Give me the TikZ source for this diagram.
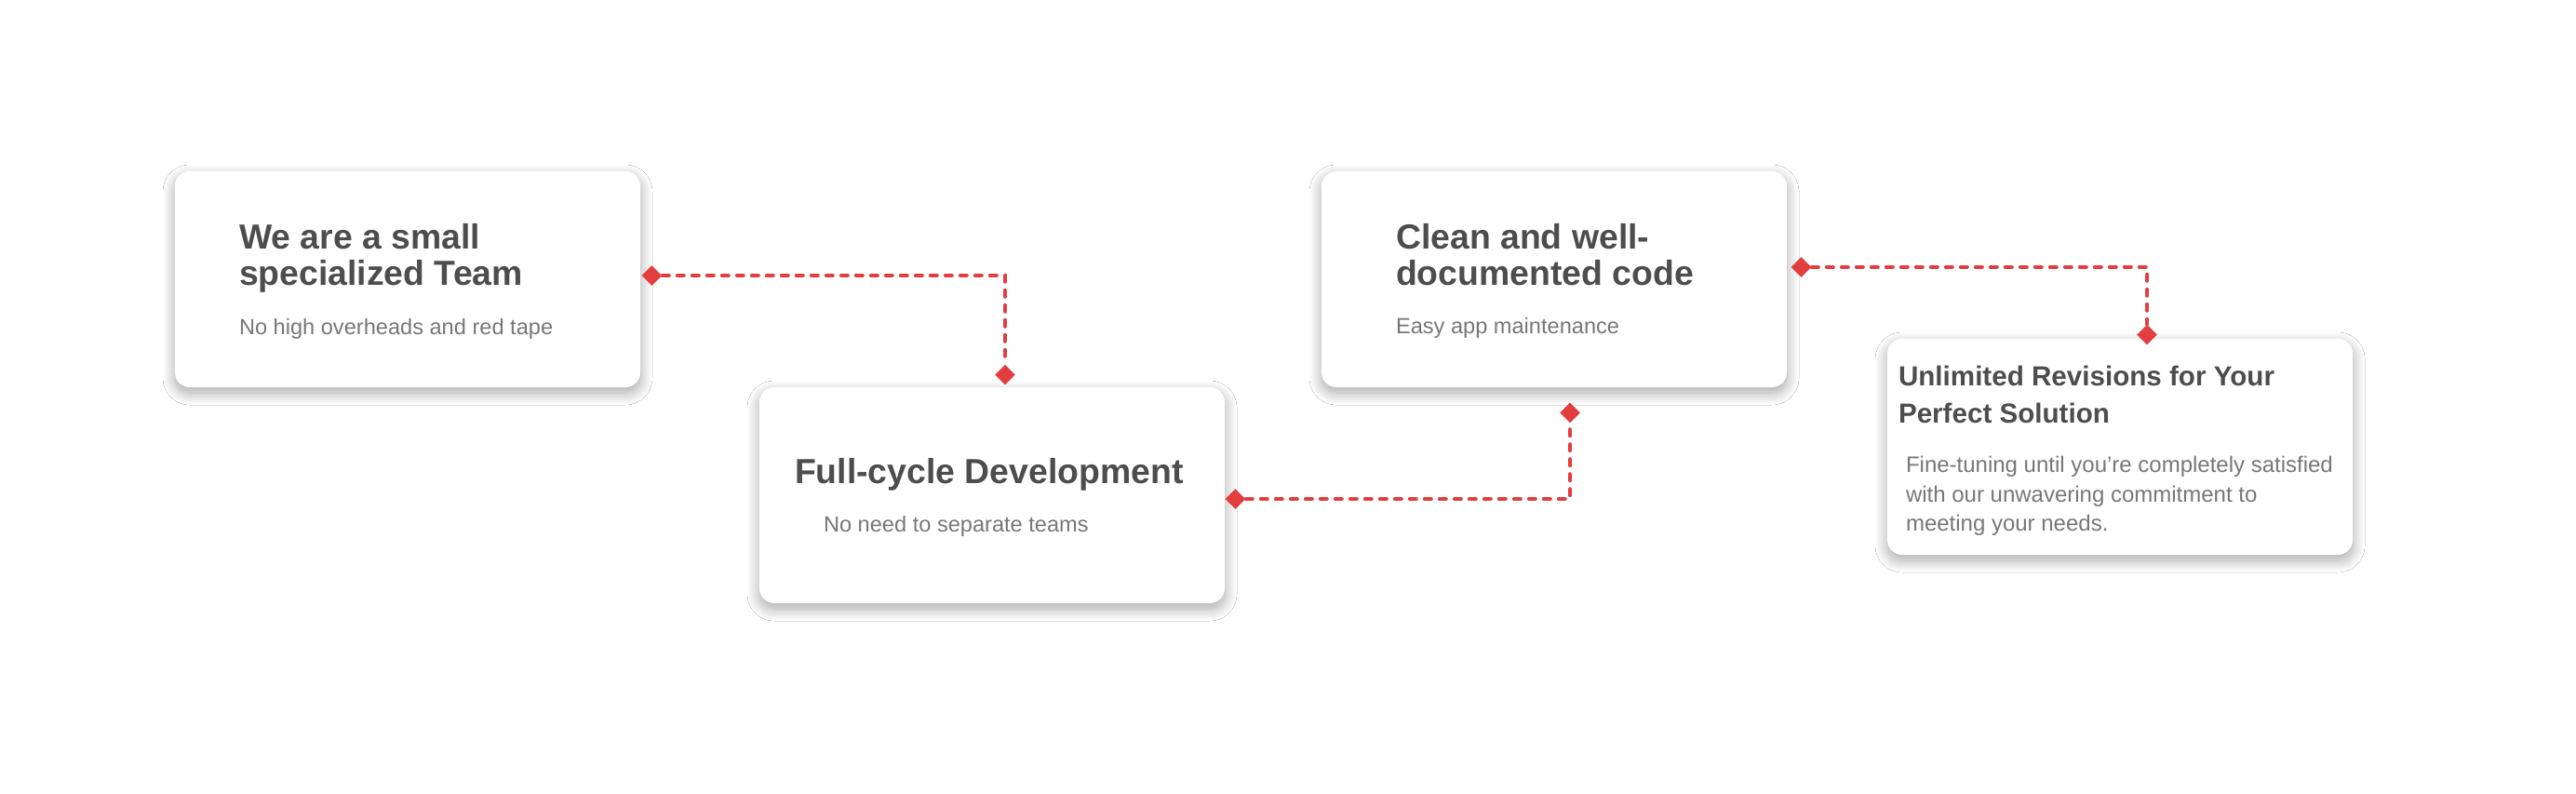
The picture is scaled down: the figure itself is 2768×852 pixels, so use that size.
\documentclass[tikz,border=0pt]{standalone}
\usepackage{fontspec}
\setmainfont{Liberation Sans}
\usetikzlibrary{calc,shapes.geometric,shadows.blur}
\definecolor{cardtext}{HTML}{4D4D4D}
\definecolor{cardsub}{HTML}{777777}
\definecolor{linkred}{HTML}{E33E3F}
\begin{document}
\begin{tikzpicture}[x=0.5pt, y=-0.5pt,
    card/.style={rounded corners=8pt, fill=white, inner sep=0pt,
        minimum width=250pt, minimum height=116pt,
        blur shadow={shadow xshift=0pt, shadow yshift=-3pt,
            shadow blur radius=6.5pt, shadow blur steps=20, shadow opacity=35}},
    title/.style={anchor=base west, align=left, inner sep=0pt, text=cardtext,
        font=\fontsize{18.7}{19.5}\selectfont\bfseries},
    sub/.style={anchor=base west, align=left, inner sep=0pt, text=cardsub,
        font=\fontsize{11.8}{15.75}\selectfont},
    dot/.style={diamond, fill=linkred, inner sep=0pt,
        minimum width=11pt, minimum height=11pt},
    link/.style={draw=linkred, line width=2pt, line cap=round,
        dash pattern=on 3.5pt off 4.5pt}]
    \useasboundingbox[fill=white] (0,0) rectangle (2768,852);

    % cards
    \node [card] (team)   at (438,300)  {};
    \node [card] (cycle)  at (1066,532) {};
    \node [card] (code)   at (1670,300) {};
    \node [card] (revise) at (2278,480) {};

    % texts (base = last line)
    \node [title] (team-t) at ($(team.north west)+(69,123)$) {We are a small\\specialized Team};
    \node [sub] (team-s) at ($(team.north west)+(69,176)$) {No high overheads and red tape};
    \node [title] (cycle-t) at ($(cycle.north west)+(38,104)$) {Full-cycle Development};
    \node [sub] (cycle-s) at ($(cycle.north west)+(69,156)$) {No need to separate teams};
    \node [title] (code-t) at ($(code.north west)+(80,123)$) {Clean and well-\\documented code};
    \node [sub] (code-s) at ($(code.north west)+(80,175)$) {Easy app maintenance};
    \node [title, font=\fontsize{14.8}{20}\selectfont\bfseries] (revise-t)
        at ($(revise.north west)+(12,91)$) {Unlimited Revisions for Your\\Perfect Solution};
    \node [sub, font=\fontsize{12}{15.75}\selectfont] (revise-s)
        at ($(revise.north west)+(20,207)$) {Fine-tuning until you're completely satisfied\\with our unwavering commitment to\\meeting your needs.};

    % connectors
    \node [dot] (d1a) at ($(team.east)+(12,-4)$) {};
    \node [dot] (d1b) at ($(cycle.north)+(14,-13)$) {};
    \node [dot] (d2a) at ($(cycle.east)+(11,4)$) {};
    \node [dot] (d2b) at ($(code.south)+(17,27)$) {};
    \node [dot] (d3a) at ($(code.east)+(15,-13)$) {};
    \node [dot] (d3b) at ($(revise.north)+(29,-4)$) {};
    \draw [link] (d1a) -| (d1b);
    \draw [link] (d2a) -| (d2b);
    \draw [link] (d3a) -| (d3b);
\end{tikzpicture}
\end{document}
